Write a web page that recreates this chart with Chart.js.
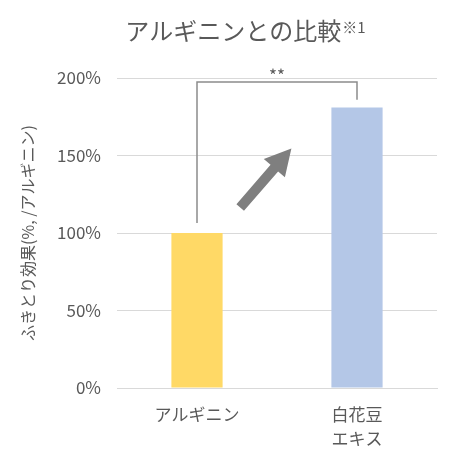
<!DOCTYPE html>
<html>
<head>
<meta charset="utf-8">
<script src="https://cdn.jsdelivr.net/npm/chart.js@4"></script>
<style>
  html, body { margin: 0; padding: 0; background: #fff; }
  #wrap { width: 460px; height: 468px; }
</style>
</head>
<body>
<div id="wrap"><canvas id="chart"></canvas></div>
<script>
// data
const categories = ['アルギニン', ['白花豆', 'エキス']];
const values = [100, 181];
const barColors = ['#FFD966', '#B4C7E7'];
const yTicks = [0, 50, 100, 150, 200];

const titleMain = 'アルギニンとの比較';
const titleNote = '※1';
const yTitle = 'ふきとり効果(%, /アルギニン)';
const sigMark = '**';

const FONT = '"Noto Sans CJK JP", "Noto Sans", sans-serif';
const GRAY = '#595959';

// title, significance bracket and the arrow
const overlay = {
    id: 'overlay',
    afterDraw(chart) {
        const ctx = chart.ctx;
        const xs = chart.scales.x;
        const ys = chart.scales.y;
        ctx.save();

        // title with small note
        ctx.textBaseline = 'middle';
        ctx.fillStyle = GRAY;
        ctx.font = '24px ' + FONT;
        const w1 = ctx.measureText(titleMain).width;
        ctx.font = '15px ' + FONT;
        const w2 = ctx.measureText(titleNote).width;
        let tx = 245 - (w1 + w2) / 2;
        ctx.textAlign = 'left';
        ctx.font = '24px ' + FONT;
        ctx.fillText(titleMain, tx, 31);
        ctx.font = '15px ' + FONT;
        ctx.fillText(titleNote, tx + w1 + 1, 27);

        // bracket
        const xl = xs.getPixelForValue(0);
        const xr = xs.getPixelForValue(1);
        const yTop = ys.getPixelForValue(197.5);
        ctx.strokeStyle = '#8c8c8c';
        ctx.lineWidth = 1.5;
        ctx.beginPath();
        ctx.moveTo(xl, ys.getPixelForValue(106.5));
        ctx.lineTo(xl, yTop);
        ctx.lineTo(xr, yTop);
        ctx.lineTo(xr, ys.getPixelForValue(186));
        ctx.stroke();

        ctx.fillStyle = GRAY;
        ctx.font = '17px ' + FONT;
        ctx.textAlign = 'center';
        ctx.fillText(sigMark, (xl + xr) / 2, ys.getPixelForValue(204) + 4);

        // arrow
        const x0 = xs.getPixelForValue(0.27), y0 = ys.getPixelForValue(116.5);
        const x1 = xs.getPixelForValue(0.59), y1 = ys.getPixelForValue(154.5);
        const ang = Math.atan2(y1 - y0, x1 - x0);
        const len = Math.hypot(x1 - x0, y1 - y0);
        ctx.translate(x0, y0);
        ctx.rotate(ang);
        const sw = 5, hw = 14, hl = 26;
        ctx.fillStyle = '#7f7f7f';
        ctx.beginPath();
        ctx.moveTo(0, -sw);
        ctx.lineTo(len - hl, -sw);
        ctx.lineTo(len - hl, -hw);
        ctx.lineTo(len, 0);
        ctx.lineTo(len - hl, hw);
        ctx.lineTo(len - hl, sw);
        ctx.lineTo(0, sw);
        ctx.closePath();
        ctx.fill();

        ctx.restore();
    }
};

new Chart(document.getElementById('chart'), {
    type: 'bar',
    data: {
        labels: categories,
        datasets: [{
            data: values,
            backgroundColor: barColors,
            barPercentage: 0.32,
            categoryPercentage: 1
        }]
    },
    options: {
        responsive: true,
        maintainAspectRatio: false,
        animation: false,
        layout: { padding: { top: 78, right: 23, left: 0, bottom: 0 } },
        plugins: {
            legend: { display: false },
            tooltip: { enabled: false },
            title: { display: false }
        },
        scales: {
            x: {
                grid: { display: false },
                border: { color: '#d9d9d9' },
                ticks: {
                    color: GRAY,
                    font: { family: FONT, size: 17, lineHeight: 1.42 },
                    padding: 6,
                    maxRotation: 0
                },
                afterFit(s) { s.height = 80; }
            },
            y: {
                min: 0,
                max: 200,
                afterBuildTicks(s) { s.ticks = yTicks.map(v => ({ value: v })); },
                grid: { color: '#d9d9d9', drawTicks: false },
                border: { display: false },
                ticks: {
                    color: GRAY,
                    font: { family: FONT, size: 17 },
                    padding: 16,
                    callback: v => v + '%'
                },
                title: {
                    display: true,
                    text: yTitle,
                    color: GRAY,
                    font: { family: FONT, size: 16 },
                    padding: { top: 18, bottom: 0 }
                },
                afterFit(s) { s.width = 117; }
            }
        }
    },
    plugins: [overlay]
});
</script>
</body>
</html>
